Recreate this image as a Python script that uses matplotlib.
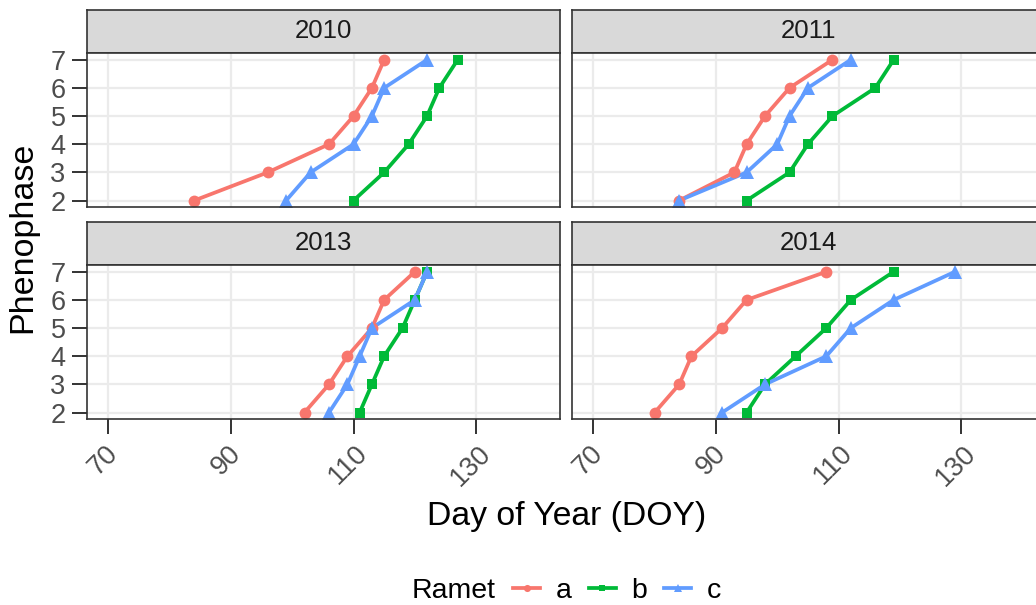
import matplotlib.pyplot as plt
import matplotlib.transforms as mtransforms
from matplotlib.lines import Line2D

# ---- data ----
years = ["2010", "2011", "2013", "2014"]
phenophase = [2, 3, 4, 5, 6, 7]
ramets = ["a", "b", "c"]

# day of year for phenophase 2..7, one row per year
doy_a = [[84, 96, 106, 110, 113, 115],
         [84, 93, 95, 98, 102, 109],
         [102, 106, 109, 113, 115, 120],
         [80, 84, 86, 91, 95, 108]]
doy_b = [[110, 115, 119, 122, 124, 127],
         [95, 102, 105, 109, 116, 119],
         [111, 113, 115, 118, 120, 122],
         [95, 98, 103, 108, 112, 119]]
doy_c = [[99, 103, 110, 113, 115, 122],
         [84, 95, 100, 102, 105, 112],
         [106, 109, 111, 113, 120, 122],
         [91, 98, 108, 112, 119, 129]]

x_ticks = [70, 90, 110, 130]

colors = ["#F8766D", "#00BA38", "#619CFF"]
markers = ["o", "s", "^"]
msizes = [8.5, 7.5, 9.5]

plt.rcParams['font.family'] = ['Liberation Sans', 'DejaVu Sans']

W, H = 1036, 605
fig = plt.figure(figsize=(W / 100, H / 100), dpi=100)

def px_axes(x0, y0, x1, y1):
    # pixel box (top-left origin) -> figure axes
    return fig.add_axes([x0 / W, 1 - y1 / H, (x1 - x0) / W, (y1 - y0) / H])

col_x = [(87, 560), (572, 1045)]
row_y = [(10, 53, 207), (222, 265, 419)]

all_series = [doy_a, doy_b, doy_c]
shift = mtransforms.ScaledTranslation(-5 / 100, 0, fig.dpi_scale_trans)

for k, year in enumerate(years):
    r, c = divmod(k, 2)
    x0, x1 = col_x[c]
    s0, p0, p1 = row_y[r]

    # strip
    st = px_axes(x0, s0, x1, p0)
    st.set_facecolor("#D9D9D9")
    st.set_xticks([])
    st.set_yticks([])
    for sp in st.spines.values():
        sp.set_color("#333333")
        sp.set_linewidth(1.2)
    st.text(0.5, 0.5, year, ha="center", va="center", fontsize=18.5,
            color="#1A1A1A", transform=st.transAxes)

    # panel
    ax = px_axes(x0, p0, x1, p1)
    ax.set_facecolor("white")
    ax.set_xlim(66.5, 143.7)
    ax.set_ylim(1.77, 7.24)
    ax.set_xticks(x_ticks)
    ax.set_yticks(phenophase)
    ax.grid(True, color="#EBEBEB", linewidth=1.6)
    ax.set_axisbelow(True)
    for sp in ax.spines.values():
        sp.set_color("#333333")
        sp.set_linewidth(1.2)
        sp.set_zorder(5)

    # lines first, then points (ggplot layer order)
    for series, col in zip(all_series, colors):
        ax.plot(series[k], phenophase, color=col, linewidth=2.7, zorder=2)
    for series, col, m, ms in zip(all_series, colors, markers, msizes):
        ax.plot(series[k], phenophase, linestyle="none", marker=m,
                markersize=ms, color=col, markeredgewidth=0, zorder=3)

    ax.tick_params(axis="both", length=10.5, width=1.4, color="#333333",
                   labelcolor="#4D4D4D", labelsize=19.5, pad=5)
    if c == 0:
        ax.tick_params(axis="y", left=True, labelleft=True)
    else:
        ax.tick_params(axis="y", left=False, labelleft=False)
    if r == 1:
        ax.tick_params(axis="x", bottom=True, labelbottom=True)
        for lab in ax.get_xticklabels():
            lab.set_rotation(45)
            lab.set_ha("center")
            lab.set_va("top")
            lab.set_transform(lab.get_transform() + shift)
    else:
        ax.tick_params(axis="x", bottom=False, labelbottom=False)

# axis titles
fig.text(567 / W, 1 - 517 / H, "Day of Year (DOY)", ha="center", va="center",
         fontsize=24.3, color="black")
fig.text(23 / W, 1 - 237 / H, "Phenophase", ha="center", va="center",
         rotation=90, fontsize=24.5, color="black")

# legend
fig.text(412 / W, 1 - 591 / H, "Ramet", ha="left", va="center",
         fontsize=20.5, color="black")
handles = [Line2D([], [], color=col, marker=m, markersize=ms * 0.6,
                  markeredgewidth=0, linewidth=2.7)
           for col, m, ms in zip(colors, markers, msizes)]
fig.legend(handles, ramets, loc="center left",
           bbox_to_anchor=(513 / W, 1 - 591 / H), ncol=3, frameon=False,
           fontsize=20.5, handlelength=0.95, handletextpad=0.55,
           columnspacing=0.6, borderpad=0, borderaxespad=0)

fig.savefig("out.png", dpi=100)
